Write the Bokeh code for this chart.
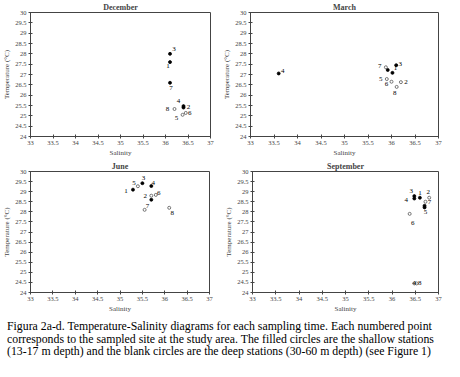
from bokeh.plotting import figure
from bokeh.layouts import column, row
from bokeh.models import ColumnDataSource, FixedTicker, Div
from bokeh.embed import file_html
from bokeh.resources import INLINE
from bokeh.core.properties import value

# ---------------- data ----------------
x_ticks = [33, 33.5, 34, 34.5, 35, 35.5, 36, 36.5, 37]
x_tick_labels = ["33", "33.5", "34", "34.5", "35", "35.5", "36", "36.5", "37"]
y_ticks = [24, 24.5, 25, 25.5, 26, 26.5, 27, 27.5, 28, 28.5, 29, 29.5, 30]
y_tick_labels = ["24", "24.5", "25", "25.5", "26", "26.5", "27", "27.5",
                 "28", "28.5", "29", "29.5", "30"]

dec_sal = [36.1, 36.4, 36.1, 36.4, 36.38, 36.45, 36.1, 36.2]
dec_temp = [27.6, 25.4, 28.0, 25.47, 25.05, 25.14, 26.6, 25.33]
dec_filled = [True, True, True, True, False, False, True, False]
dec_labels = ["1", "2", "3", "4", "5", "6", "7", "8"]

mar_sal = [36.02, 36.2, 36.1, 33.6, 35.9, 36.0, 35.88, 35.92, 36.11]
mar_temp = [27.08, 26.63, 27.45, 27.05, 26.78, 26.65, 27.35, 27.22, 26.4]
mar_filled = [True, False, True, True, False, False, False, True, False]
mar_labels = ["1", "2", "3", "4", "5", "6", "7", "", "8"]

jun_sal = [35.29, 35.7, 35.5, 35.7, 35.4, 35.8, 35.55, 36.1, 35.7]
jun_temp = [29.1, 28.8, 29.42, 29.28, 29.27, 28.84, 28.1, 28.2, 28.6]
jun_filled = [True, False, True, True, False, False, False, False, True]
jun_labels = ["1", "2", "3", "4", "5", "6", "7", "8", ""]

sep_sal = [36.6, 36.8, 36.48, 36.48, 36.7, 36.38, 36.72, 36.53, 36.48, 36.7]
sep_temp = [28.7, 28.7, 28.78, 28.66, 28.3, 27.9, 28.5, 24.45, 24.45, 28.22]
sep_filled = [True, False, True, True, True, False, False, False, False, True]
sep_labels = ["1", "2", "3", "4", "5", "6", "7", "8", "4", ""]

# label placement (screen pixels) -- layout only
dec_dx = [-2, 5, 4, -5, -6, 4, 1, -7]
dec_dy = [4, -1, -5, -5, 3, 0, 5, 0]
mar_dx = [3, 5, 4, 4, -6, -5, -6, 0, -2]
mar_dy = [-5, 0, -1, -2, 0, 2, -1, 0, 6]
jun_dx = [-7, -6, 1, 2, -4, 3, 3, 3, 0]
jun_dy = [1, 0, -5, -3, -3, -2, -4, 5, 0]
sep_dx = [0, -1, -3, -8, 1, 3, 4, 3, 0, 0]
sep_dy = [-5, -6, -5, 1, 6, 9, 0, 0, 0, 0]

FONT = "Liberation Serif"


def make_panel(title, sal, temp, filled, labels, dx, dy,
               width, height, left, right, top, bottom):
    p = figure(width=width, height=height, x_range=(33, 37), y_range=(24, 30),
               output_backend="svg", toolbar_location=None, title=title,
               min_border_left=left, min_border_right=right,
               min_border_top=top, min_border_bottom=bottom)
    p.title.align = "center"
    p.title.text_font = FONT
    p.title.text_font_style = "bold"
    p.title.text_font_size = "8px"
    p.title.standoff = 1
    p.title.offset = 0
    p.xgrid.visible = False
    p.ygrid.visible = False
    p.outline_line_color = "#444444"
    p.background_fill_color = "white"
    p.border_fill_color = "white"

    p.xaxis.ticker = FixedTicker(ticks=x_ticks)
    p.yaxis.ticker = FixedTicker(ticks=y_ticks)
    p.xaxis.major_label_overrides = dict(zip(x_ticks, x_tick_labels))
    p.yaxis.major_label_overrides = dict(zip(y_ticks, y_tick_labels))
    p.xaxis.axis_label = "Salinity"
    p.yaxis.axis_label = "Temperature (\u00b0C)"
    for ax in (p.xaxis[0], p.yaxis[0]):
        ax.axis_label_text_font = FONT
        ax.axis_label_text_font_style = "normal"
        ax.axis_label_text_font_size = "7px"
        ax.major_label_text_font = FONT
        ax.major_label_text_font_size = "6.5px"
        ax.major_tick_in = 2
        ax.major_tick_out = 2
        ax.minor_tick_in = 0
        ax.minor_tick_out = 0
        ax.major_label_standoff = 2
        ax.axis_label_standoff = 1
        ax.axis_line_color = "#444444"
        ax.major_tick_line_color = "#444444"

    fs = ColumnDataSource(dict(
        x=[s for s, f in zip(sal, filled) if f],
        y=[t for t, f in zip(temp, filled) if f]))
    hs = ColumnDataSource(dict(
        x=[s for s, f in zip(sal, filled) if not f],
        y=[t for t, f in zip(temp, filled) if not f]))
    p.scatter("x", "y", source=fs, marker="circle", size=3,
              fill_color="black", line_color="black", line_width=0.8)
    p.scatter("x", "y", source=hs, marker="circle", size=3,
              fill_color="white", line_color="#555555", line_width=0.8)

    ls = ColumnDataSource(dict(x=sal, y=temp, t=labels, dx=dx, dy=dy))
    p.text("x", "y", text="t", source=ls, x_offset="dx", y_offset="dy",
           text_align="center", text_baseline="middle",
           text_font=value(FONT), text_font_size="7px", text_color="black")
    return p


pA = make_panel("December", dec_sal, dec_temp, dec_filled, dec_labels,
                dec_dx, dec_dy, 220, 159, 24, 10, 12, 22)
pB = make_panel("March", mar_sal, mar_temp, mar_filled, mar_labels,
                mar_dx, mar_dy, 224, 159, 24, 6, 12, 22)
pC = make_panel("June", jun_sal, jun_temp, jun_filled, jun_labels,
                jun_dx, jun_dy, 220, 156, 24, 11, 12, 22)
pD = make_panel("September", sep_sal, sep_temp, sep_filled, sep_labels,
                sep_dx, sep_dy, 224, 156, 32, 6, 12, 22)

caption = Div(
    text=("Figura 2a-d. Temperature-Salinity diagrams for each sampling time. "
          "Each numbered point<br>corresponds to the sampled site at the study area. "
          "The filled circles are the shallow stations<br>(13-17 m depth) and the "
          "blank circles are the deep stations (30-60 m depth) (see Figure 1)"),
    width=444, height=42,
    styles={"font-family": "'Liberation Serif', serif", "font-size": "11.8px",
            "line-height": "12.5px", "color": "black", "padding-left": "2px",
            "white-space": "nowrap"})

layout = column(row(pA, pB), row(pC, pD), caption)

open("out.html", "w").write(file_html(layout, INLINE))
